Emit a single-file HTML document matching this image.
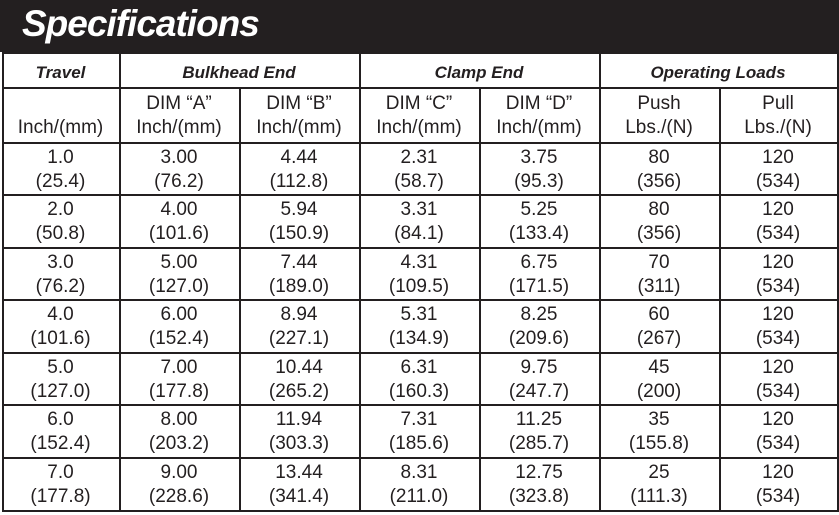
<!DOCTYPE html>
<html><head><style>
body{margin:0;width:839px;height:515px;background:#fff;overflow:hidden;font-family:"Liberation Sans","DejaVu Sans",sans-serif;color:#231f20;position:relative}
.hd{position:absolute;left:0;top:0;width:839px;height:52px;background:#231f20}
.hd span{position:absolute;left:22px;top:3px;color:#fff;font-size:37px;font-weight:bold;font-style:italic;letter-spacing:-1px}
.h{position:absolute;background:#231f20;height:2px}
.v{position:absolute;background:#231f20;width:2px}
.c{position:absolute;text-align:center;font-size:19px;line-height:24px;white-space:nowrap}
.b{font-weight:bold;font-style:italic;font-size:17px}
</style></head><body>
<div class="hd"><span>Specifications</span></div>
<div id="g"></div>
<script>
var X=[2,119,239,359,479,599,719,837];
var Y=[52,87,142,194,247,299,352,404,457,510];
var g=document.getElementById('g'),h='';
Y.forEach(function(y,i){h+='<div class="h" style="left:2px;top:'+y+'px;width:837px"></div>';});
X.forEach(function(x,i){
  if(i==2||i==4||i==6) h+='<div class="v" style="left:'+x+'px;top:87px;height:425px"></div>';
  else h+='<div class="v" style="left:'+x+'px;top:52px;height:460px"></div>';
});
function cell(x1,x2,y,t,cls){h+='<div class="c '+(cls||'')+'" style="left:'+x1+'px;width:'+(x2-x1)+'px;top:'+y+'px">'+t+'</div>';}
cell(X[0],X[1],61,'Travel','b');cell(X[1],X[3],61,'Bulkhead End','b');cell(X[3],X[5],61,'Clamp End','b');cell(X[5],X[7],61,'Operating Loads','b');
var hd=['<br>Inch/(mm)','DIM “A”<br>Inch/(mm)','DIM “B”<br>Inch/(mm)','DIM “C”<br>Inch/(mm)','DIM “D”<br>Inch/(mm)','Push<br>Lbs./(N)','Pull<br>Lbs./(N)'];
hd.forEach(function(t,i){cell(X[i],X[i+1],92,t);});
var d=[
['1.0|(25.4)','3.00|(76.2)','4.44|(112.8)','2.31|(58.7)','3.75|(95.3)','80|(356)','120|(534)'],
['2.0|(50.8)','4.00|(101.6)','5.94|(150.9)','3.31|(84.1)','5.25|(133.4)','80|(356)','120|(534)'],
['3.0|(76.2)','5.00|(127.0)','7.44|(189.0)','4.31|(109.5)','6.75|(171.5)','70|(311)','120|(534)'],
['4.0|(101.6)','6.00|(152.4)','8.94|(227.1)','5.31|(134.9)','8.25|(209.6)','60|(267)','120|(534)'],
['5.0|(127.0)','7.00|(177.8)','10.44|(265.2)','6.31|(160.3)','9.75|(247.7)','45|(200)','120|(534)'],
['6.0|(152.4)','8.00|(203.2)','11.94|(303.3)','7.31|(185.6)','11.25|(285.7)','35|(155.8)','120|(534)'],
['7.0|(177.8)','9.00|(228.6)','13.44|(341.4)','8.31|(211.0)','12.75|(323.8)','25|(111.3)','120|(534)']];
d.forEach(function(r,j){r.forEach(function(t,i){cell(X[i],X[i+1],Y[j+2]+4,t.replace('|','<br>'));});});
g.innerHTML=h;
</script>
</body></html>
